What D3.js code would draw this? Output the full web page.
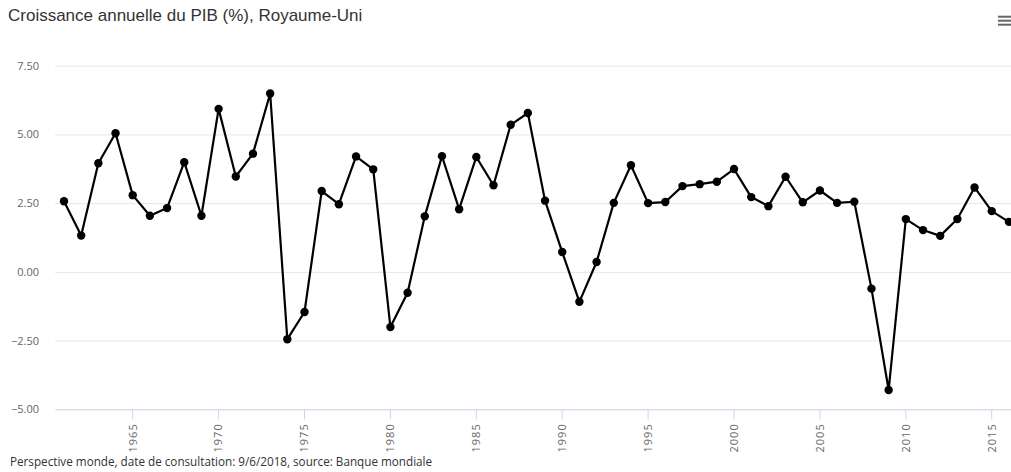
<!DOCTYPE html>
<html><head><meta charset="utf-8">
<script src="https://cdn.jsdelivr.net/npm/d3@7/dist/d3.min.js"></script>
<style>
html,body{margin:0;padding:0;background:#fff;overflow:hidden;}
svg{display:block;}
</style></head>
<body>
<script>
const titleText = "Croissance annuelle du PIB (%), Royaume-Uni";
const footerText = "Perspective monde, date de consultation: 9/6/2018, source: Banque mondiale";
const years = d3.range(1961, 2017);
const growth = [2.57,1.32,3.95,5.04,2.79,2.04,2.32,3.99,2.04,5.93,
                3.47,4.30,6.49,-2.45,-1.46,2.94,2.46,4.20,3.73,-2.01,
                -0.76,2.02,4.21,2.28,4.18,3.15,5.35,5.78,2.59,0.72,
                -1.09,0.36,2.51,3.88,2.50,2.54,3.12,3.19,3.28,3.74,
                2.72,2.39,3.46,2.53,2.96,2.51,2.55,-0.61,-4.30,1.92,
                1.52,1.31,1.92,3.07,2.21,1.82];
const yTicks = [-5, -2.5, 0, 2.5, 5, 7.5];
const xTicks = [1965,1970,1975,1980,1985,1990,1995,2000,2005,2010,2015];

const W = 1011, H = 472;
const svg = d3.select("body").append("svg").attr("width", W).attr("height", H);

const x = d3.scaleBand().domain(years).range([55.4, 1017.5]).paddingInner(0).paddingOuter(0);
const cx = d => x(d) + x.bandwidth()/2;
const y = d3.scaleLinear().domain([-5, 7.5]).range([409.3, 65.7]);

// title
svg.append("text").attr("x", 8).attr("y", 21)
  .attr("font-family", "Liberation Sans, Arial, sans-serif").attr("font-size", 17)
  .attr("fill", "#333").text(titleText);

// menu icon
[16.7, 20.7, 24.7].forEach(yy => {
  svg.append("rect").attr("x", 998).attr("y", yy - 1).attr("width", 13).attr("height", 2).attr("fill", "#666");
});

// gridlines
const yAxis = d3.axisLeft(y).tickValues(yTicks).tickFormat(d3.format(".2f"))
  .tickSize(-(W - 55)).tickPadding(15);
const gy = svg.append("g").attr("transform", "translate(55,0)").call(yAxis);
gy.select(".domain").remove();
gy.selectAll(".tick line").attr("stroke", "#e6e6e6").attr("stroke-width", 1);
gy.selectAll(".tick text").attr("fill", "#666").attr("font-size", 11)
  .attr("font-family", "Open Sans, DejaVu Sans, sans-serif").attr("x", -16);

// x axis
const xAxis = d3.axisBottom(x).tickValues(xTicks).tickSize(10).tickPadding(5).tickSizeOuter(0);
const gx = svg.append("g").attr("transform", "translate(0,409.3)").call(xAxis);
gx.select(".domain").attr("stroke", "#ccd6eb");
gx.selectAll(".tick line").attr("stroke", "#ccd6eb");
gx.selectAll(".tick text").attr("fill", "#666").attr("font-size", 11)
  .attr("font-family", "Open Sans, DejaVu Sans, sans-serif")
  .attr("letter-spacing", 1)
  .attr("transform", "rotate(-90)")
  .attr("text-anchor", "end").attr("dy", "0.35em").attr("x", -14).attr("y", 0);

// line
const line = d3.line().x((d, i) => cx(years[i])).y(d => y(d));
svg.append("path").datum(growth).attr("d", line)
  .attr("fill", "none").attr("stroke", "#000").attr("stroke-width", 2.2).attr("stroke-linejoin", "round");

svg.append("g").selectAll("circle").data(growth).join("circle")
  .attr("cx", (d, i) => cx(years[i])).attr("cy", d => y(d)).attr("r", 4.2).attr("fill", "#000");

// footer
svg.append("text").attr("x", 10).attr("y", 466)
  .attr("font-family", "Open Sans, DejaVu Sans, sans-serif").attr("font-size", 11.7)
  .attr("fill", "#333").text(footerText);
</script>
</body></html>
